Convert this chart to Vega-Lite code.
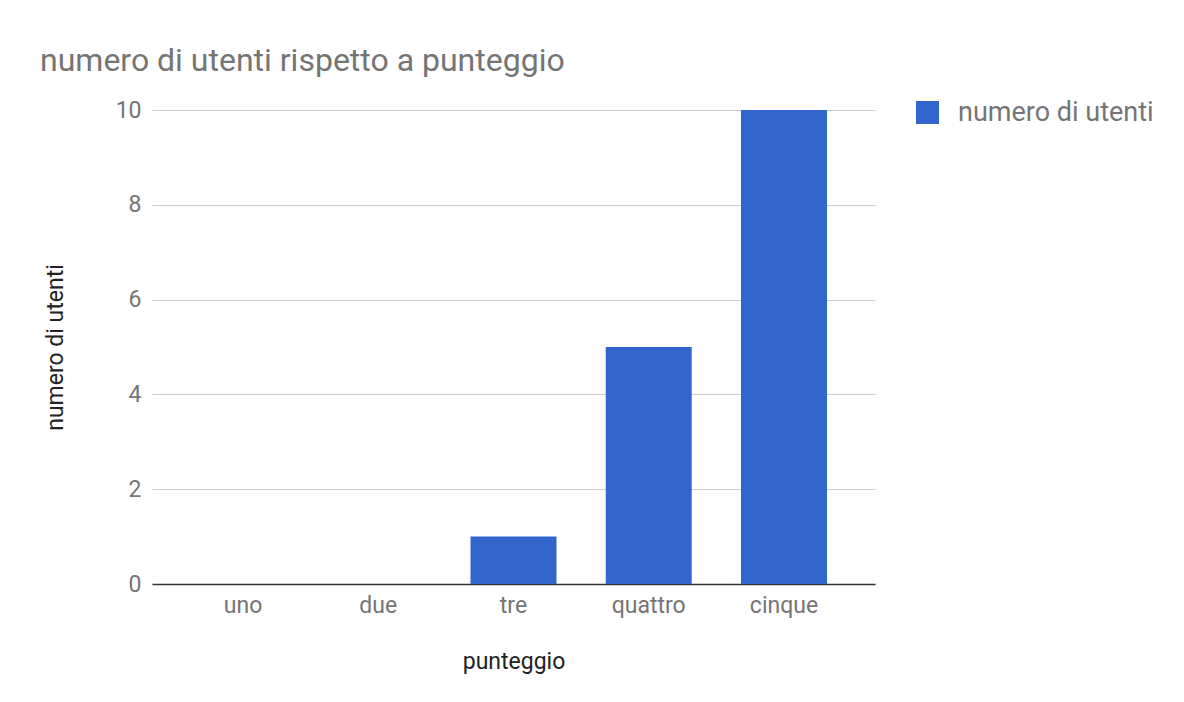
{
  "$schema": "https://vega.github.io/schema/vega-lite/v6.json",
  "autosize": "none",
  "width": 723,
  "height": 474,
  "padding": {"left": 152, "top": 110, "right": 309, "bottom": 118},
  "background": "white",
  "title": {
    "text": "numero di utenti rispetto a punteggio",
    "anchor": "start",
    "frame": "group",
    "dx": -112,
    "offset": 21,
    "font": "Roboto",
    "fontSize": 32,
    "fontWeight": "normal",
    "color": "#757575"
  },
  "data": {
    "values": [
      {"punteggio": "uno", "utenti": 0, "serie": "numero di utenti"},
      {"punteggio": "due", "utenti": 0, "serie": "numero di utenti"},
      {"punteggio": "tre", "utenti": 1, "serie": "numero di utenti"},
      {"punteggio": "quattro", "utenti": 5, "serie": "numero di utenti"},
      {"punteggio": "cinque", "utenti": 10, "serie": "numero di utenti"}
    ]
  },
  "mark": {"type": "bar"},
  "encoding": {
    "x": {
      "field": "punteggio",
      "type": "nominal",
      "sort": null,
      "scale": {"paddingInner": 0.364, "paddingOuter": 0.355, "align": 0.5},
      "axis": {
        "title": "punteggio",
        "labelAngle": 0,
        "ticks": false,
        "domain": true,
        "domainColor": "#333333",
        "domainWidth": 1.5,
        "labelPadding": 10,
        "labelFont": "Roboto",
        "labelFontSize": 23,
        "labelColor": "#757575",
        "titleFont": "Roboto",
        "titleFontSize": 23,
        "titleFontWeight": "normal",
        "titleColor": "#222222",
        "titlePadding": 33
      }
    },
    "y": {
      "field": "utenti",
      "type": "quantitative",
      "scale": {"domain": [0, 10], "nice": false},
      "axis": {
        "title": "numero di utenti",
        "values": [0, 2, 4, 6, 8, 10],
        "ticks": false,
        "domain": false,
        "labelPadding": 11,
        "labelFont": "Roboto",
        "labelFontSize": 23,
        "labelColor": "#757575",
        "gridColor": "#cccccc",
        "gridWidth": 1,
        "titleFont": "Roboto",
        "titleFontSize": 23,
        "titleFontWeight": "normal",
        "titleColor": "#222222",
        "titlePadding": 48
      }
    },
    "color": {
      "field": "serie",
      "type": "nominal",
      "scale": {"range": ["#3366cc"]},
      "legend": {
        "title": null,
        "orient": "none",
        "legendX": 762,
        "legendY": -11,
        "symbolType": "square",
        "symbolSize": 529,
        "symbolStrokeWidth": 0,
        "labelFont": "Roboto",
        "labelFontSize": 27,
        "labelColor": "#757575",
        "labelOffset": 17,
        "labelLimit": 400
      }
    }
  },
  "config": {
    "view": {"stroke": null}
  }
}
